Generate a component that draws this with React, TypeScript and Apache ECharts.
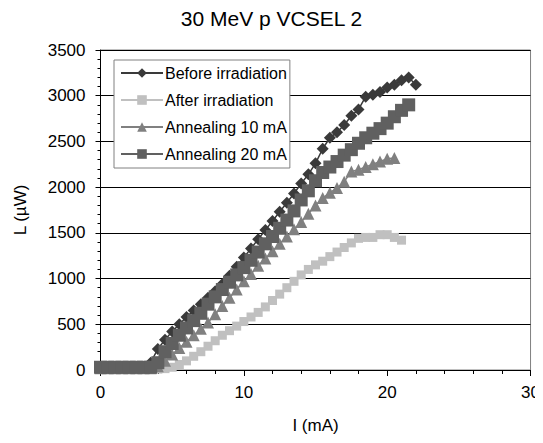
import React, { useEffect, useRef } from "react";
import * as echarts from "echarts";

const title = "30 MeV p VCSEL 2";
const seriesNames = ["Before irradiation", "After irradiation", "Annealing 10 mA", "Annealing 20 mA"];

const beforeI = [0,0.5,1,1.5,2,2.5,3,3.5,4,4.5,5,5.5,6,6.5,7,7.5,8,8.5,9,9.5,10,10.5,11,11.5,12,12.5,13,13.5,14,14.5,15,15.5,16,16.5,17,17.5,18,18.5,19,19.5,20,20.5,21,21.5,22];
const beforeL = [30,30,30,30,30,30,30,80,230,330,420,500,580,650,720,790,860,940,1030,1130,1230,1330,1430,1530,1630,1730,1830,1930,2040,2140,2260,2420,2540,2600,2680,2780,2850,2990,3010,3040,3090,3120,3170,3200,3120];

const afterI = [0,0.5,1,1.5,2,2.5,3,3.5,4,4.5,5,5.5,6,6.5,7,7.5,8,8.5,9,9.5,10,10.5,11,11.5,12,12.5,13,13.5,14,14.5,15,15.5,16,16.5,17,17.5,18,18.5,19,19.5,20,20.5,21];
const afterL = [10,10,10,10,10,10,10,10,10,15,30,60,100,150,200,260,320,380,430,480,530,580,630,690,760,830,900,970,1040,1100,1150,1190,1240,1290,1340,1390,1440,1450,1450,1480,1480,1450,1420];

const ann10I = [0,0.5,1,1.5,2,2.5,3,3.5,4,4.5,5,5.5,6,6.5,7,7.5,8,8.5,9,9.5,10,10.5,11,11.5,12,12.5,13,13.5,14,14.5,15,15.5,16,16.5,17,17.5,18,18.5,19,19.5,20,20.5];
const ann10L = [20,20,20,20,20,20,20,20,40,100,170,240,310,380,450,520,610,700,790,880,970,1050,1140,1220,1300,1380,1460,1540,1620,1710,1800,1880,1940,1990,2060,2170,2190,2220,2250,2280,2310,2320];

const ann20I = [0,0.5,1,1.5,2,2.5,3,3.5,4,4.5,5,5.5,6,6.5,7,7.5,8,8.5,9,9.5,10,10.5,11,11.5,12,12.5,13,13.5,14,14.5,15,15.5,16,16.5,17,17.5,18,18.5,19,19.5,20,20.5,21,21.5];
const ann20L = [30,30,30,30,30,30,30,30,80,200,290,380,460,540,620,720,800,880,960,1040,1120,1200,1290,1380,1460,1550,1640,1740,1860,1960,2070,2160,2220,2280,2350,2410,2480,2540,2590,2640,2700,2770,2840,2900];

const zip = (xs: number[], ys: number[]) => xs.map((x, i) => [x, ys[i]]);

export default function App() {
  const ref = useRef<HTMLDivElement>(null);
  useEffect(() => {
    const chart = echarts.init(ref.current!, null, { renderer: "svg" });
    const font = "'Liberation Sans', Arial, sans-serif";
    chart.setOption({
      animation: false,
      backgroundColor: "#ffffff",
      textStyle: { fontFamily: font },
      title: {
        text: title,
        left: "center",
        top: 3,
        textStyle: { fontFamily: font, fontSize: 21, fontWeight: "normal", color: "#000" },
      },
      grid: {
        left: 100.5,
        right: 10,
        top: 50,
        bottom: 73,
        show: true,
        borderColor: "#808080",
        borderWidth: 1,
        backgroundColor: "transparent",
      },
      legend: {
        orient: "vertical",
        left: 114,
        top: 60,
        itemWidth: 42,
        itemHeight: 12,
        itemGap: 11,
        padding: [5, 3, 6, 6],
        backgroundColor: "#fff",
        borderColor: "#808080",
        borderWidth: 1,
        borderRadius: 0,
        textStyle: { fontFamily: font, fontSize: 16, color: "#000", padding: [0, 0, 0, -3] },
        data: seriesNames,
      },
      xAxis: {
        type: "value",
        min: 0,
        max: 30,
        interval: 10,
        name: "I (mA)",
        nameLocation: "middle",
        nameGap: 47,
        nameTextStyle: { fontFamily: font, fontSize: 17, color: "#000" },
        axisLine: { show: true, onZero: false, lineStyle: { color: "#000", width: 1 } },
        axisTick: { show: true, length: 6, lineStyle: { color: "#000" } },
        minorTick: { show: true, splitNumber: 5, length: 4, lineStyle: { color: "#000" } },
        axisLabel: { fontFamily: font, fontSize: 17, color: "#000", margin: 14, showMaxLabel: true },
        splitLine: { show: false },
      },
      yAxis: {
        type: "value",
        min: 0,
        max: 3500,
        interval: 500,
        name: "L (\u00b5W)",
        nameLocation: "middle",
        nameGap: 72,
        nameTextStyle: { fontFamily: font, fontSize: 17, color: "#000" },
        axisLine: { show: true, lineStyle: { color: "#000", width: 1 } },
        axisTick: { show: true, length: 5, lineStyle: { color: "#000" } },
        minorTick: { show: true, splitNumber: 5, length: 3, lineStyle: { color: "#000" } },
        axisLabel: { fontFamily: font, fontSize: 17, color: "#000", margin: 15, formatter: (v: number) => String(v) },
        splitLine: { show: true, lineStyle: { color: "#000", width: 1 } },
      },
      series: [
        {
          name: seriesNames[0],
          type: "line",
          data: zip(beforeI, beforeL),
          symbol: "diamond",
          symbolSize: 12,
          itemStyle: { color: "#3a3a3a" },
          lineStyle: { color: "#3a3a3a", width: 1.5 },
          z: 2,
        },
        {
          name: seriesNames[1],
          type: "line",
          data: zip(afterI, afterL),
          symbol: "rect",
          symbolSize: 9,
          itemStyle: { color: "#c0c0c0" },
          lineStyle: { color: "#c0c0c0", width: 1.5 },
          z: 3,
        },
        {
          name: seriesNames[2],
          type: "line",
          data: zip(ann10I, ann10L),
          symbol: "triangle",
          symbolSize: 12,
          itemStyle: { color: "#808080" },
          lineStyle: { color: "#808080", width: 1.5 },
          z: 4,
        },
        {
          name: seriesNames[3],
          type: "line",
          data: zip(ann20I, ann20L),
          symbol: "rect",
          symbolSize: 13,
          itemStyle: { color: "#606060" },
          lineStyle: { color: "#606060", width: 1.5 },
          z: 5,
        },
      ],
    });
    return () => chart.dispose();
  }, []);
  return <div ref={ref} style={{ width: 543, height: 443, margin: -8 }} />;
}
